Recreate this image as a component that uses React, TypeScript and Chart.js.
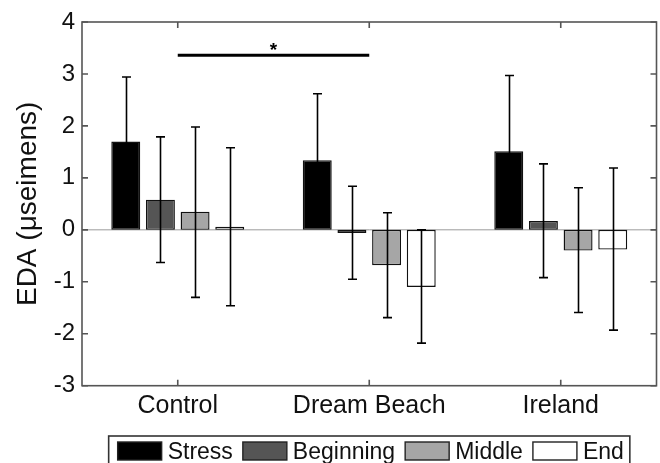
import React, { useEffect, useRef } from 'react';
import { Chart, registerables } from 'chart.js';
Chart.register(...registerables);

const categories = ['Control', 'Dream Beach', 'Ireland'];
const seriesNames = ['Stress', 'Beginning', 'Middle', 'End'];
const seriesColors = ['#000000', '#555555', '#a6a6a6', '#ffffff'];

const stressMeans = [1.7, 1.34, 1.51];
const stressHigh = [2.94, 2.62, 2.97];
const stressLow = [0.46, 0.06, 0.05];

const beginningMeans = [0.58, -0.06, 0.17];
const beginningHigh = [1.79, 0.84, 1.27];
const beginningLow = [-0.63, -0.95, -0.92];

const middleMeans = [0.35, -0.68, -0.4];
const middleHigh = [1.98, 0.33, 0.81];
const middleLow = [-1.3, -1.69, -1.59];

const endMeans = [0.06, -1.1, -0.38];
const endHigh = [1.58, 0.0, 1.19];
const endLow = [-1.46, -2.18, -1.93];

const yMin = -3;
const yMax = 4;
const yStep = 1;

const sigFrom = 'Control';
const sigTo = 'Dream Beach';
const sigY = 3.36;
const sigLabel = '*';

const yTitle = 'EDA (\u03bcseimens)';

const FONT = '"Liberation Sans", Arial, Helvetica, sans-serif';

export default function App() {
  const ref = useRef<HTMLCanvasElement | null>(null);

  useEffect(() => {
    document.body.style.margin = '0';
    const canvas = ref.current;
    if (!canvas) return;

    const means = [stressMeans, beginningMeans, middleMeans, endMeans];
    const highs = [stressHigh, beginningHigh, middleHigh, endHigh];
    const lows = [stressLow, beginningLow, middleLow, endLow];

    const zeroLine = {
      id: 'zeroLine',
      beforeDatasetsDraw(chart: any) {
        const { ctx, chartArea } = chart;
        const y = chart.scales.y.getPixelForValue(0);
        ctx.save();
        ctx.strokeStyle = '#9a9a9a';
        ctx.lineWidth = 1;
        ctx.beginPath();
        ctx.moveTo(chartArea.left, y);
        ctx.lineTo(chartArea.right, y);
        ctx.stroke();
        ctx.restore();
      },
    };

    const errorBars = {
      id: 'errorBars',
      afterDatasetsDraw(chart: any) {
        const { ctx } = chart;
        const ys = chart.scales.y;
        ctx.save();
        ctx.strokeStyle = '#000';
        ctx.lineWidth = 1.6;
        chart.data.datasets.forEach((ds: any, i: number) => {
          const meta = chart.getDatasetMeta(i);
          meta.data.forEach((el: any, j: number) => {
            const x = Math.round(el.x) + 0.5;
            const yh = ys.getPixelForValue(highs[i][j]);
            const yl = ys.getPixelForValue(lows[i][j]);
            ctx.beginPath();
            ctx.moveTo(x, yh);
            ctx.lineTo(x, yl);
            ctx.moveTo(x - 4.5, yh);
            ctx.lineTo(x + 4.5, yh);
            ctx.moveTo(x - 4.5, yl);
            ctx.lineTo(x + 4.5, yl);
            ctx.stroke();
          });
        });
        ctx.restore();
      },
    };

    const frame = {
      id: 'frame',
      afterDatasetsDraw(chart: any) {
        const { ctx, chartArea } = chart;
        const { left, right, top, bottom } = chartArea;
        const xs = chart.scales.x;
        const ys = chart.scales.y;
        ctx.save();
        ctx.strokeStyle = '#555';
        ctx.lineWidth = 1.6;
        ctx.strokeRect(left, top, right - left, bottom - top);
        const tl = 6;
        ctx.beginPath();
        for (let v = yMin; v <= yMax; v += yStep) {
          const y = ys.getPixelForValue(v);
          ctx.moveTo(left, y);
          ctx.lineTo(left + tl, y);
          ctx.moveTo(right, y);
          ctx.lineTo(right - tl, y);
        }
        categories.forEach((_, i) => {
          const x = xs.getPixelForValue(i);
          ctx.moveTo(x, bottom);
          ctx.lineTo(x, bottom - tl);
          ctx.moveTo(x, top);
          ctx.lineTo(x, top + tl);
        });
        ctx.stroke();

        // significance bar
        const x1 = xs.getPixelForValue(categories.indexOf(sigFrom));
        const x2 = xs.getPixelForValue(categories.indexOf(sigTo));
        const sy = ys.getPixelForValue(sigY);
        ctx.strokeStyle = '#000';
        ctx.lineWidth = 3;
        ctx.beginPath();
        ctx.moveTo(x1, sy);
        ctx.lineTo(x2, sy);
        ctx.stroke();
        ctx.fillStyle = '#000';
        ctx.font = 'bold 19px ' + FONT;
        ctx.textAlign = 'center';
        ctx.textBaseline = 'alphabetic';
        ctx.fillText(sigLabel, (x1 + x2) / 2, sy + 1);
        ctx.restore();
      },
    };

    const boxLegend = {
      id: 'boxLegend',
      afterDraw(chart: any) {
        const { ctx } = chart;
        ctx.save();
        ctx.font = '23px ' + FONT;
        const boxW = 44;
        const boxH = 18;
        const gapText = 6;
        const gapItem = 10;
        const padL = 9;
        const padR = 6;
        const widths = chart.data.datasets.map((ds: any) => ctx.measureText(ds.label).width);
        let total = padL + padR;
        widths.forEach((w: number, i: number) => {
          total += boxW + gapText + w + (i < widths.length - 1 ? gapItem : 0);
        });
        const cx = (chart.chartArea.left + chart.chartArea.right) / 2;
        let x = cx - total / 2;
        const top = 436;
        ctx.strokeStyle = '#333';
        ctx.lineWidth = 1.6;
        ctx.fillStyle = '#fff';
        ctx.fillRect(x, top, total, 40);
        ctx.strokeRect(x, top, total, 40);
        x += padL;
        const by = 442;
        chart.data.datasets.forEach((ds: any, i: number) => {
          ctx.fillStyle = ds.backgroundColor;
          ctx.fillRect(x, by, boxW, boxH);
          ctx.strokeStyle = '#222';
          ctx.lineWidth = 1.4;
          ctx.strokeRect(x, by, boxW, boxH);
          x += boxW + gapText;
          ctx.fillStyle = '#111';
          ctx.textAlign = 'left';
          ctx.textBaseline = 'alphabetic';
          ctx.fillText(ds.label, x, 458.5);
          x += widths[i] + gapItem;
        });
        ctx.restore();
      },
    };

    const chart = new Chart(canvas, {
      type: 'bar',
      data: {
        labels: categories,
        datasets: seriesNames.map((name, i) => ({
          label: name,
          data: means[i],
          backgroundColor: seriesColors[i],
          borderColor: '#111',
          borderWidth: 1.4,
          borderSkipped: false,
          categoryPercentage: 0.724,
          barPercentage: 0.835,
        })),
      },
      options: {
        responsive: false,
        animation: false,
        layout: { padding: { top: 22, right: 3.5, left: 0, bottom: 0 } },
        plugins: {
          legend: { display: false },
          tooltip: { enabled: false },
        },
        scales: {
          x: {
            offset: true,
            grid: { display: false, drawTicks: false },
            border: { display: false },
            ticks: {
              color: '#111',
              font: { family: FONT, size: 25 },
              padding: 5,
              maxRotation: 0,
              autoSkip: false,
            },
            afterFit: (s: any) => {
              s.height = 77.3;
            },
          },
          y: {
            min: yMin,
            max: yMax,
            grid: { display: false, drawTicks: false },
            border: { display: false },
            ticks: {
              stepSize: yStep,
              color: '#111',
              font: { family: FONT, size: 24 },
              padding: 7,
            },
            title: {
              display: true,
              text: yTitle,
              color: '#111',
              font: { family: FONT, size: 28 },
              padding: { top: 11, bottom: 0 },
            },
            afterFit: (s: any) => {
              s.width = 82;
            },
          },
        },
      },
      plugins: [zeroLine, errorBars, frame, boxLegend],
    } as any);

    return () => chart.destroy();
  }, []);

  return (
    <div style={{ width: 660, height: 463 }}>
      <canvas ref={ref} width={660} height={463} style={{ display: 'block' }} />
    </div>
  );
}
